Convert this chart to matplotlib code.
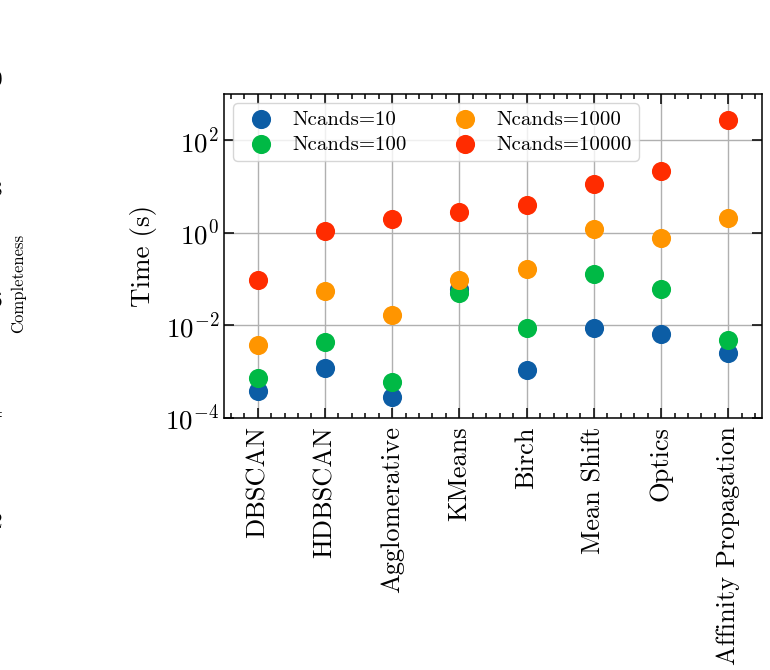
import matplotlib
matplotlib.use("Agg")
import matplotlib.pyplot as plt
from matplotlib.ticker import AutoMinorLocator, LogLocator, NullLocator

methods = ["DBSCAN", "HDBSCAN", "Agglomerative", "KMeans", "Birch",
           "Mean Shift", "Optics", "Affinity Propagation"]
ncands_labels = ["Ncands=10", "Ncands=100", "Ncands=1000", "Ncands=10000"]
colors = ["#0C5DA5", "#00B945", "#FF9500", "#FF2C00"]

time_10 = [3.9e-4, 1.2e-3, 2.9e-4, 0.060, 1.08e-3, 8.6e-3, 6.4e-3, 2.5e-3]
time_100 = [7.4e-4, 4.4e-3, 6.0e-4, 0.050, 8.9e-3, 0.126, 0.061, 4.8e-3]
time_1000 = [3.7e-3, 0.055, 0.0167, 0.094, 0.168, 1.24, 0.78, 2.05]
time_10000 = [0.095, 1.09, 2.0, 2.87, 3.9, 11.5, 21.7, 272.0]
series = [time_10, time_100, time_1000, time_10000]

comp_ticks = [0.2, 0.4, 0.6, 0.8, 1.0]
comp_ticklabels = ["0.2", "0.4", "0.6", "0.8", "1.0"]

plt.rcParams.update({
    "font.family": "serif",
    "font.serif": ["cmr10", "DejaVu Serif"],
    "mathtext.fontset": "cm",
    "axes.formatter.use_mathtext": True,
    "axes.unicode_minus": False,
})

fig = plt.figure(figsize=(7.7, 6.7), dpi=100)
W, H = 770, 670
L, R, T, B = 224, 762, 94, 418
ax = fig.add_axes([L / W, 1 - B / H, (R - L) / W, (B - T) / H])

x = list(range(len(methods)))
for vals, lab, c in zip(series, ncands_labels, colors):
    ax.scatter(x, vals, s=190, color=c, label=lab, linewidths=0, zorder=3)

ax.set_yscale("log")
ax.set_ylim(1e-4, 1e3)
ax.set_xlim(-0.5, len(methods) - 0.5)
ax.yaxis.set_major_locator(LogLocator(base=10, numticks=5))
ax.yaxis.set_minor_locator(NullLocator())
ax.set_xticks(x)
ax.set_xticklabels(methods, rotation=90, fontsize=19)
ax.xaxis.set_minor_locator(AutoMinorLocator(5))
ax.tick_params(axis="y", labelsize=19.5)
ax.tick_params(which="both", direction="in", top=True, right=True, width=1.1)
ax.tick_params(which="major", length=7.5)
ax.tick_params(which="minor", length=3.5)
ax.tick_params(axis="x", pad=6)
for s in ax.spines.values():
    s.set_linewidth(1.1)
ax.grid(True, which="major", color="#b0b0b0", linewidth=1.0, zorder=0)
ax.set_axisbelow(True)
ax.set_ylabel("Time (s)", fontsize=19.5, labelpad=6)

leg = ax.legend(loc="upper left", ncol=2, fontsize=15, frameon=True,
                framealpha=0.8, edgecolor="0.8", handletextpad=0.5,
                columnspacing=1.8, borderpad=0.33, labelspacing=0.3,
                borderaxespad=0.45)

# cut-off neighbouring panel at the left edge
ax0 = fig.add_axes([0.0145, 1 - 520 / H, 0.001, (520 - 78) / H])
ax0.set_ylim(0.2, 1.0)
ax0.set_yticks(comp_ticks)
ax0.set_yticklabels(comp_ticklabels, fontsize=16)
ax0.set_xticks([])
ax0.tick_params(axis="y", length=0, pad=6)
for s in ax0.spines.values():
    s.set_visible(False)
ax0.patch.set_alpha(0)
fig.text(18 / W, 1 - 283 / H, "Completeness", rotation=90, fontsize=12,
         ha="center", va="center")

fig.savefig("out.png", dpi=100)
